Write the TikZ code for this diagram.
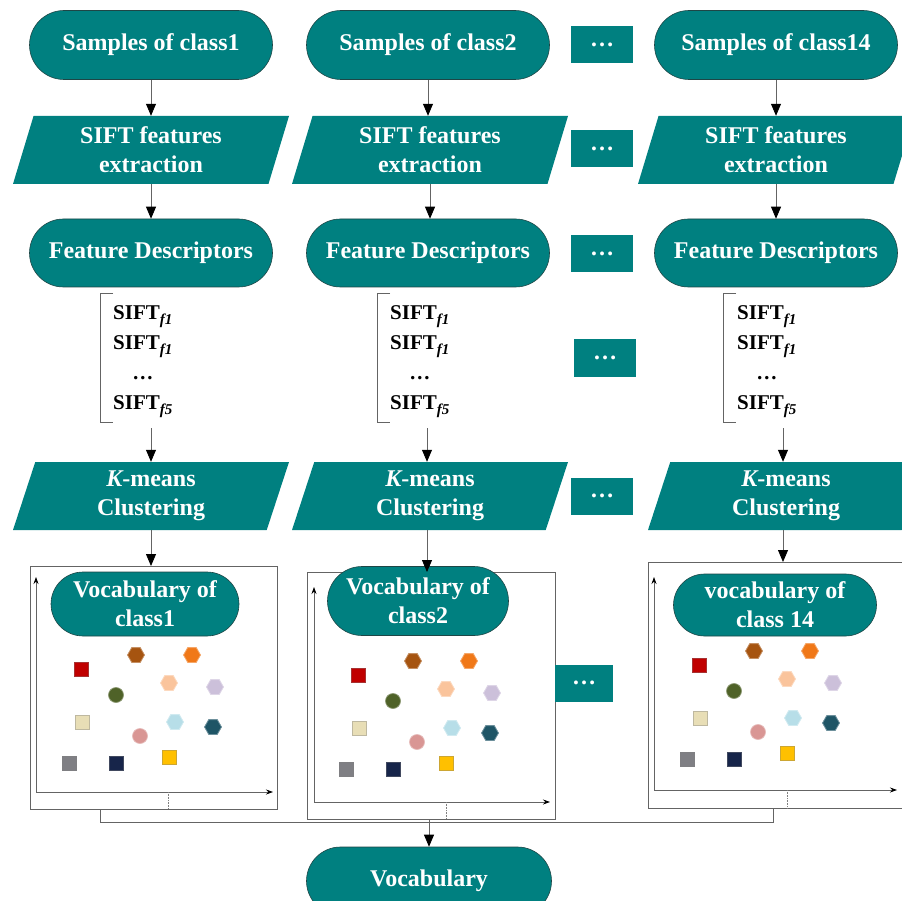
\documentclass[tikz,border=0pt]{standalone}
\usepackage{fontspec}
\setmainfont{Liberation Serif}
\usetikzlibrary{shapes.geometric,shapes.misc,arrows.meta,calc}
\definecolor{tealc}{RGB}{0,128,128}
\definecolor{tealdark}{RGB}{30,70,70}
\definecolor{linegray}{RGB}{100,100,100}
\definecolor{mbrown}{RGB}{166,84,16}
\definecolor{morange}{RGB}{240,120,24}
\definecolor{mred}{RGB}{192,0,0}
\definecolor{mpeach}{RGB}{250,196,156}
\definecolor{mlav}{RGB}{204,192,218}
\definecolor{molive}{RGB}{79,98,40}
\definecolor{mbeige}{RGB}{232,222,182}
\definecolor{mlblue}{RGB}{183,222,232}
\definecolor{mdteal}{RGB}{31,85,102}
\definecolor{mpink}{RGB}{217,150,148}
\definecolor{myellow}{RGB}{255,192,0}
\definecolor{mgray}{RGB}{127,127,132}
\definecolor{mnavy}{RGB}{23,37,74}
\newcommand\hexm[3]{\filldraw[fill=#3,draw=#3!65!white,line width=0.8pt] (#1,#2) +(8.5,0) -- +(4.25,7.4) -- +(-4.25,7.4) -- +(-8.5,0) -- +(-4.25,-7.4) -- +(4.25,-7.4) -- cycle;}
\newcommand\sqm[3]{\filldraw[fill=#3,draw=#3!60!gray,line width=0.7pt] (#1-7,#2-7) rectangle (#1+7,#2+7);}
\newcommand\circm[3]{\filldraw[fill=#3,draw=#3!65!white,line width=0.7pt] (#1,#2) circle[radius=7.5pt];}
\newcommand\allmarkers{%
  \hexm{106}{89}{mbrown}
  \hexm{162}{89}{morange}
  \sqm{51}{103}{mred}
  \hexm{139}{117}{mpeach}
  \hexm{185}{121}{mlav}
  \circm{86}{129}{molive}
  \sqm{52}{156}{mbeige}
  \hexm{145}{156}{mlblue}
  \hexm{183}{161}{mdteal}
  \circm{110}{170}{mpink}
  \sqm{139}{191}{myellow}
  \sqm{39}{197}{mgray}
  \sqm{86}{197}{mnavy}}
\newcommand\subf[1]{\raisebox{-5pt}{\fontsize{15}{15}\selectfont\itshape #1}}
\begin{document}
\begin{tikzpicture}[x=1pt,y=-1pt,
  every node/.style={font=\bfseries\fontsize{24}{29}\selectfont, inner sep=0pt},
  term/.style={rounded rectangle, fill=tealc, draw=tealdark, line width=0.6pt, text=white,
    minimum width=243, minimum height=69, align=center},
  para/.style={trapezium, trapezium left angle=66, trapezium right angle=114,
    trapezium stretches body, fill=tealc, draw=none, text=white,
    minimum width=276, minimum height=68, align=center},
  dotsbox/.style={rectangle, fill=tealc, text=white, minimum width=62, minimum height=37},
  plotbox/.style={rectangle, draw=linegray, fill=white, line width=0.8pt, anchor=north west},
  siftlist/.style={align=center, font=\bfseries\fontsize{21}{30}\selectfont, anchor=west},
  arr/.style={draw=linegray, line width=0.8pt, -{Triangle[width=10pt,length=12pt,color=black]}},
  conn/.style={draw=linegray, line width=0.8pt},
  axisl/.style={draw=linegray, line width=0.8pt, -{Stealth[width=5pt,length=7pt,color=black]}},
  tick/.style={draw=gray, densely dotted, line width=0.6pt}
]
\useasboundingbox (0,0) rectangle (902,901);
\clip (0,0) rectangle (902,901);
\fill[white] (0,0) rectangle (902,901);

% top row
\node[term] (T1) at (151,45) {Samples of class1};
\node[term] (T2) at (428,45) {Samples of class2};
\node[term] (T3) at (776,45) {Samples of class14};
\node[dotsbox] (D1) at (602,45) {…};

% SIFT extraction
\node[para] (S1) at (151,150) {SIFT features\\extraction};
\node[para] (S2) at (430,150) {SIFT features\\extraction};
\node[para] (S3) at (776,150) {SIFT features\\extraction};
\node[dotsbox] (D2) at (602,149) {…};

% Feature descriptors
\node[term, minimum height=68] (F1) at (151,253) {Feature Descriptors};
\node[term, minimum height=68] (F2) at (428,253) {Feature Descriptors};
\node[term, minimum height=68] (F3) at (776,253) {Feature Descriptors};
\node[dotsbox] (D3) at (602,254) {…};

% SIFT lists
\node[siftlist] (L1) at (113,362) {SIFT\subf{f1}\\SIFT\subf{f1}\\…\\SIFT\subf{f5}};
\node[siftlist] (L2) at (390,362) {SIFT\subf{f1}\\SIFT\subf{f1}\\…\\SIFT\subf{f5}};
\node[siftlist] (L3) at (737,362) {SIFT\subf{f1}\\SIFT\subf{f1}\\…\\SIFT\subf{f5}};
\node[dotsbox, minimum height=38] (D4) at (605,358) {…};
\foreach \b/\x in {L1/100,L2/377,L3/723}{
  \draw[conn] (\x+13,293) -- (\x,293) -- (\x,422) -- (\x+13,422);
}

% K-means
\node[para] (K1) at (151,496) {{\itshape K}-means\\Clustering};
\node[para] (K2) at (430,496) {{\itshape K}-means\\Clustering};
\node[para] (K3) at (786,496) {{\itshape K}-means\\Clustering};
\node[dotsbox] (D5) at (602,496) {…};

% plot boxes
\node[plotbox, minimum width=247, minimum height=243] (P1) at (30,566) {};
\node[plotbox, minimum width=248, minimum height=247] (P2) at (307,572) {};
\node[plotbox, minimum width=258, minimum height=246] (P3) at (648,562) {};

\begin{scope}[shift={(30,566)}]
  \draw[axisl] (6,226) -- (6,11);
  \draw[axisl] (6,226) -- (243,226);
  \draw[tick] (138,226) -- (138,243);
  \allmarkers
\end{scope}
\begin{scope}[shift={(307,572)}]
  \draw[axisl] (7,230) -- (7,15);
  \draw[axisl] (7,230) -- (243,230);
  \draw[tick] (139,230) -- (139,247);
  \allmarkers
\end{scope}
\begin{scope}[shift={(648,562)}]
  \draw[axisl] (6,228) -- (6,15);
  \draw[axisl] (6,228) -- (249,228);
  \draw[tick] (139,228) -- (139,246);
  \allmarkers
\end{scope}

\node[term, minimum width=188, minimum height=64] (V1) at (145,604) {Vocabulary of\\class1};
\node[term, minimum width=181, minimum height=69] (V2) at (418,601) {Vocabulary of\\class2};
\node[term, minimum width=203, minimum height=62] (V3) at (775,605) {vocabulary of\\class 14};
\node[dotsbox, minimum width=58] (D6) at (584,683) {…};

% final
\node[term, minimum width=245, minimum height=68] (V) at (429,881) {Vocabulary};

% connectors
\draw[arr] (T1.south) -- (T1.south |- S1.north);
\draw[arr] (T2.south) -- (T2.south |- S2.north);
\draw[arr] (T3.south) -- (T3.south |- S3.north);
\draw[arr] (S1.south) -- (S1.south |- F1.north);
\draw[arr] (S2.south) -- (S2.south |- F2.north);
\draw[arr] (S3.south) -- (S3.south |- F3.north);
\coordinate (a1) at (151,428);
\coordinate (a2) at (427,428);
\coordinate (a3) at (783,428);
\draw[arr] (a1) -- (a1 |- K1.north);
\draw[arr] (a2) -- (a2 |- K2.north);
\draw[arr] (a3) -- (a3 |- K3.north);
\draw[arr] (K1.south -| a1) -- (a1 |- P1.north);
\draw[arr] (K2.south -| a2) -- (a2 |- P2.north);
\draw[arr] (K3.south -| a3) -- (a3 |- P3.north);
\draw[conn] ($(P1.south west)+(70,0)$) -- ++(0,13) -| ($(P3.south west)+(125,0)$);
\draw[arr] (V.north |- P2.south) -- (V.north);
\end{tikzpicture}
\end{document}
